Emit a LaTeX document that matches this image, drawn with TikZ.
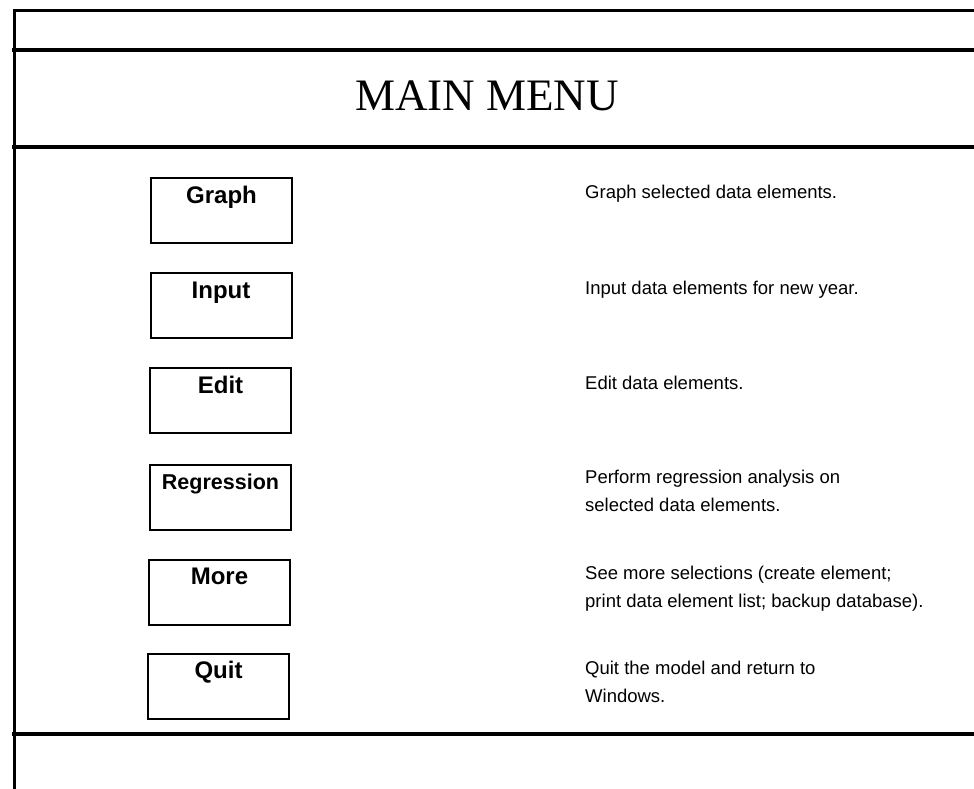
\documentclass[tikz,border=0pt]{standalone}
\usepackage{fontspec}
\setmainfont{Liberation Sans}
\newfontfamily\titlefont{Liberation Serif}
\begin{document}
\begin{tikzpicture}[x=1pt,y=-1pt,
  frame/.style={line width=4pt,line cap=rect},
  menubox/.style={draw,line width=2pt,rectangle,minimum width=141pt,minimum height=65pt,inner sep=0pt},
  boxlabel/.style={font=\fontsize{24}{26}\selectfont\bfseries,anchor=base},
  desc/.style={font=\fontsize{18.5}{28}\selectfont,anchor=base west,align=left,inner sep=0pt}]
\useasboundingbox (0,0) rectangle (974,789);
% frame
\draw[line width=3pt] (974,11) -- (14,11) -- (14,789);
\draw[frame] (14,50) -- (974,50);
\draw[frame] (14,147) -- (974,147);
\draw[frame] (14,734) -- (974,734);
\node[font=\titlefont\fontsize{45}{50}\selectfont,anchor=base] (title) at (487,111) {MAIN MENU};
% boxes
\node[menubox] (graph) at (221.5,210.5) {};
\node[menubox] (input) at (221,305.5) {};
\node[menubox] (edit) at (220.5,400.5) {};
\node[menubox] (regr) at (220.5,497) {};
\node[menubox] (more) at (219.5,592) {};
\node[menubox] (quit) at (218.5,686) {};
\node[boxlabel] (graphl) at ([yshift=-26pt]graph.north) {Graph};
\node[boxlabel] (inputl) at ([yshift=-26pt]input.north) {Input};
\node[boxlabel] (editl) at ([yshift=-26pt]edit.north) {Edit};
\node[boxlabel,font=\fontsize{21.5}{24}\selectfont\bfseries] (regrl) at ([yshift=-26pt]regr.north) {Regression};
\node[boxlabel] (morel) at ([yshift=-26pt]more.north) {More};
\node[boxlabel] (quitl) at ([yshift=-26pt]quit.north) {Quit};
% descriptions (base anchor = last line)
\node[desc] (d1) at (585,198) {Graph selected data elements.};
\node[desc] (d2) at (585,294) {Input data elements for new year.};
\node[desc] (d3) at (585,389) {Edit data elements.};
\node[desc] (d4) at (585,511) {Perform regression analysis on\\selected data elements.};
\node[desc] (d5) at (585,607) {See more selections (create element;\\print data element list; backup database).};
\node[desc] (d6) at (585,702) {Quit the model and return to\\Windows.};
\end{tikzpicture}
\end{document}
